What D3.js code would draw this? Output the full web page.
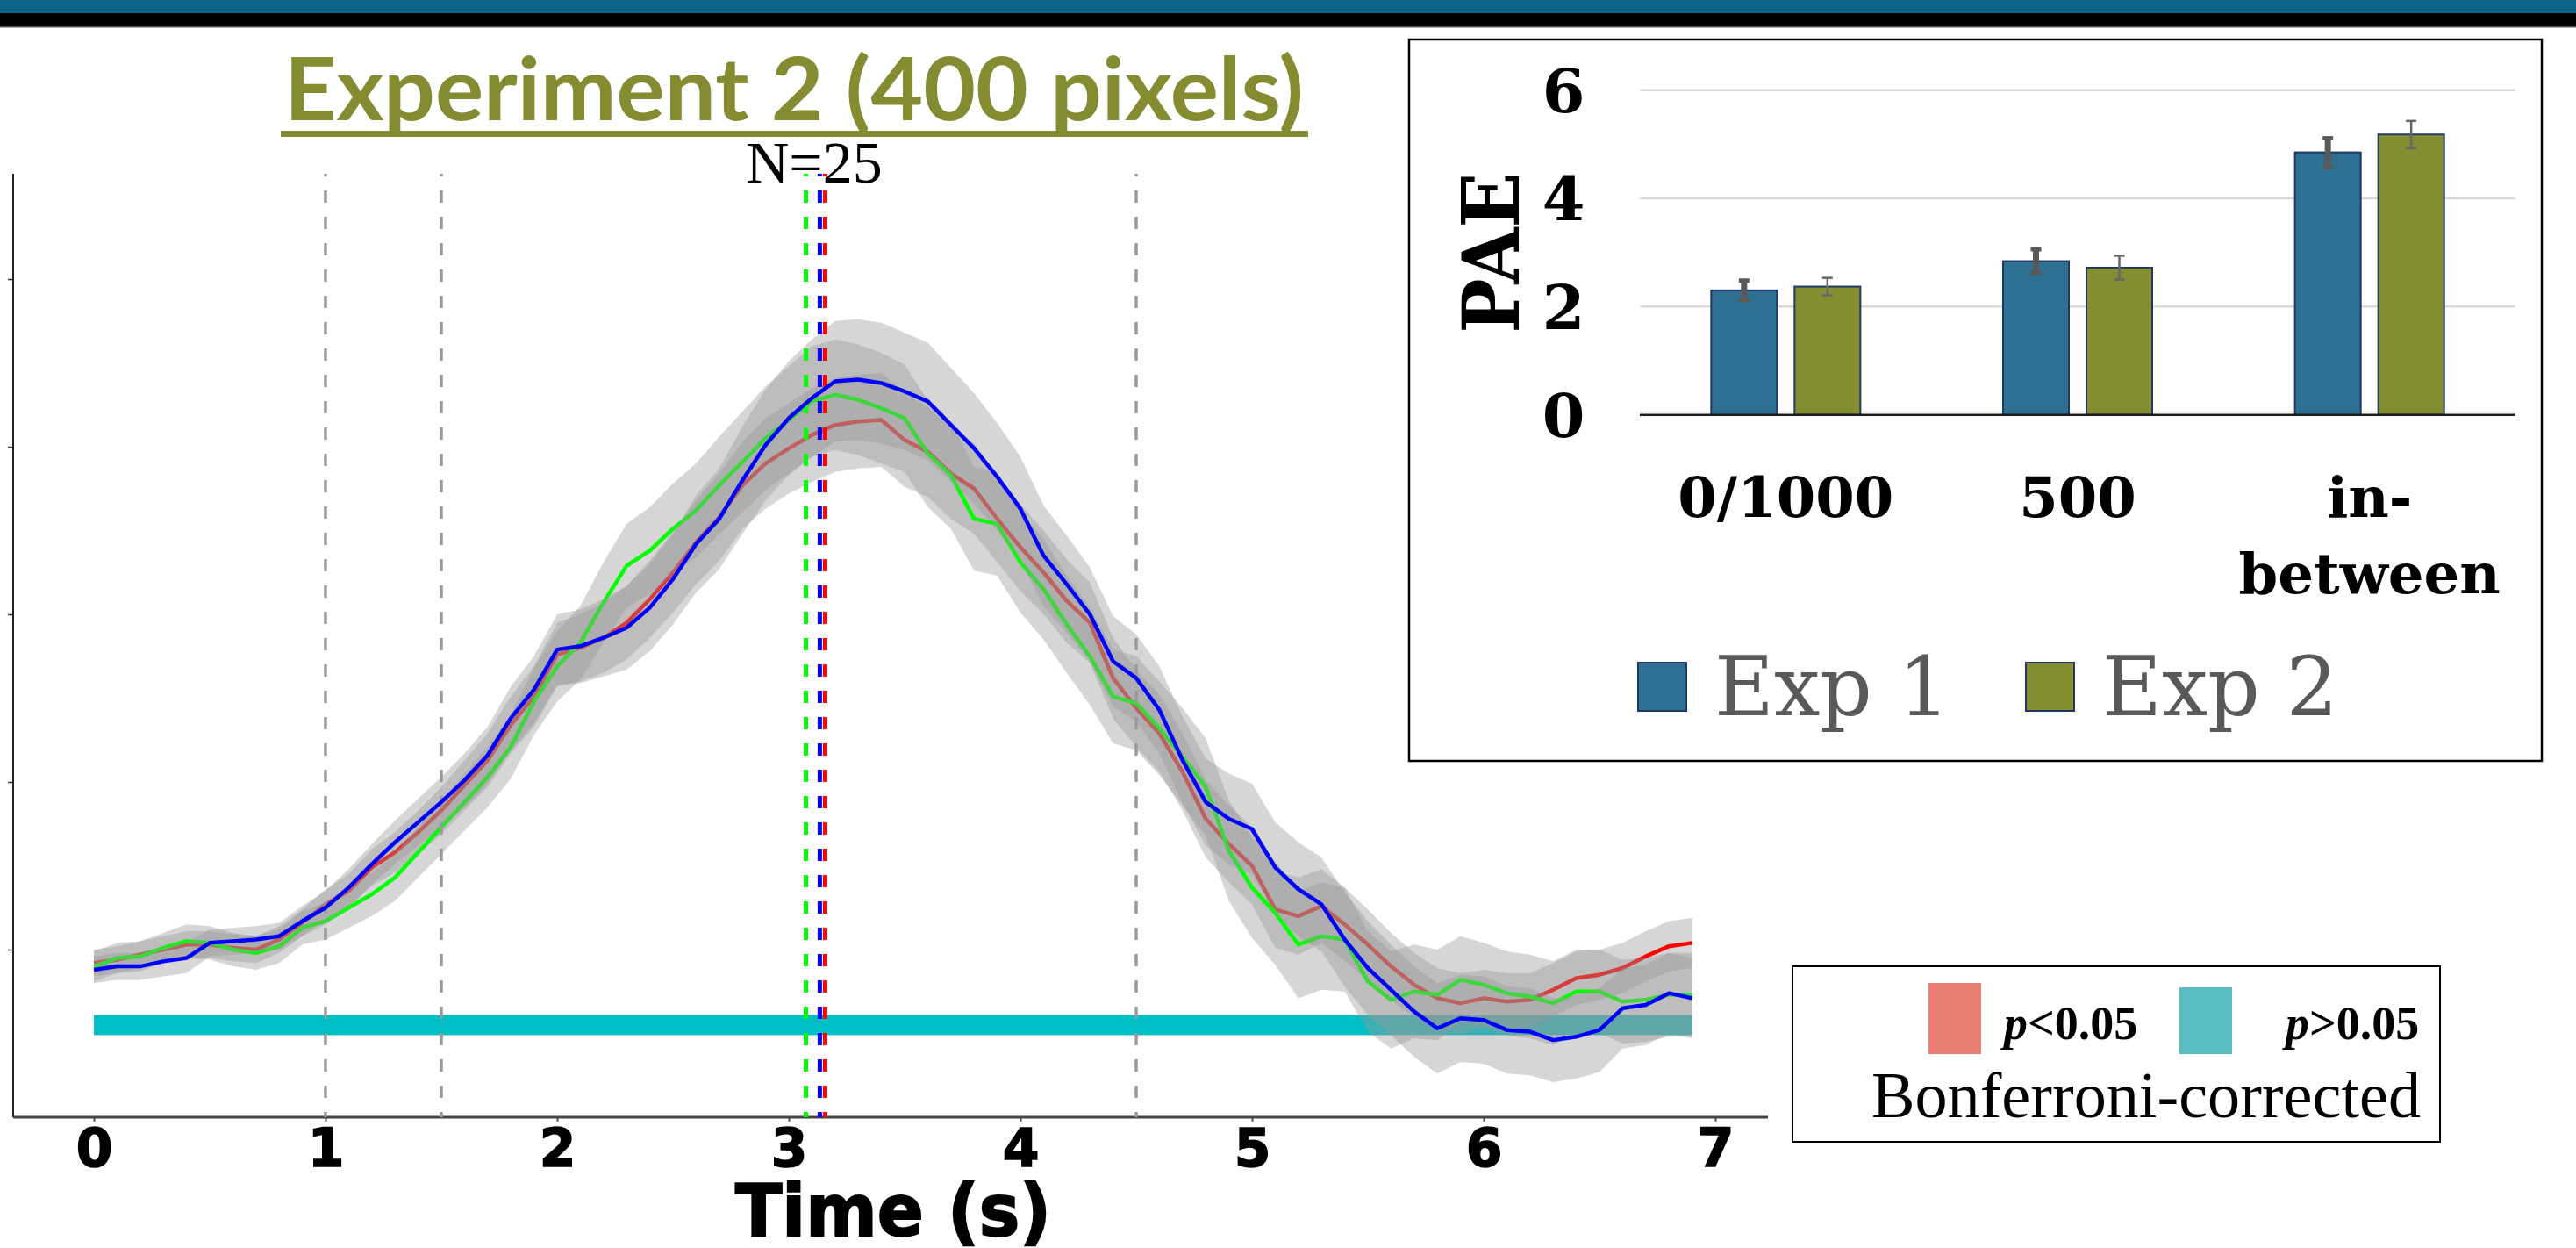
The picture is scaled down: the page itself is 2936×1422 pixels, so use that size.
<!DOCTYPE html>
<html lang="en">
<head>
<meta charset="UTF-8">
<title>Experiment 2 (400 pixels)</title>
<script src="https://d3js.org/d3.v7.min.js"></script>
<style>
  body { margin: 0; background: #fff; }
  svg { display: block; }
</style>
</head>
<body>
<div class="box"></div>
<script>
// ---- time course data (s), every 0.1 s ----
const time = [0, 0.1, 0.2, 0.3, 0.4, 0.5, 0.6, 0.7, 0.8, 0.9,
  1, 1.1, 1.2, 1.3, 1.4, 1.5, 1.6, 1.7, 1.8, 1.9,
  2, 2.1, 2.2, 2.3, 2.4, 2.5, 2.6, 2.7, 2.8, 2.9,
  3, 3.1, 3.2, 3.3, 3.4, 3.5, 3.6, 3.7, 3.8, 3.9,
  4, 4.1, 4.2, 4.3, 4.4, 4.5, 4.6, 4.7, 4.8, 4.9,
  5, 5.1, 5.2, 5.3, 5.4, 5.5, 5.6, 5.7, 5.8, 5.9,
  6, 6.1, 6.2, 6.3, 6.4, 6.5, 6.6, 6.7, 6.8, 6.9]

const redMean = [-0.08, -0.06, -0.03, 0.00, 0.03, 0.03, 0.01, 0.00, 0.06, 0.16,
  0.27, 0.35, 0.49, 0.58, 0.70, 0.83, 0.98, 1.13, 1.34, 1.51,
  1.76, 1.80, 1.86, 1.95, 2.09, 2.25, 2.43, 2.58, 2.77, 2.90,
  2.99, 3.07, 3.13, 3.15, 3.16, 3.04, 2.97, 2.84, 2.75, 2.57,
  2.40, 2.25, 2.08, 1.95, 1.62, 1.44, 1.29, 1.06, 0.78, 0.63,
  0.50, 0.24, 0.20, 0.26, 0.15, 0.03, -0.10, -0.21, -0.29, -0.32,
  -0.29, -0.31, -0.30, -0.24, -0.17, -0.15, -0.11, -0.04, 0.02, 0.04]
const redSE = [0.08, 0.08, 0.08, 0.08, 0.08, 0.08, 0.08, 0.08, 0.08, 0.08,
  0.09, 0.10, 0.11, 0.12, 0.13, 0.14, 0.15, 0.16, 0.17, 0.18,
  0.19, 0.20, 0.21, 0.22, 0.23, 0.24, 0.25, 0.26, 0.26, 0.27,
  0.27, 0.28, 0.28, 0.28, 0.28, 0.28, 0.27, 0.27, 0.27, 0.26,
  0.26, 0.25, 0.25, 0.24, 0.24, 0.23, 0.23, 0.23, 0.23, 0.23,
  0.23, 0.23, 0.23, 0.22, 0.22, 0.21, 0.20, 0.19, 0.18, 0.18,
  0.17, 0.17, 0.16, 0.16, 0.16, 0.15, 0.15, 0.15, 0.15, 0.15]

const greenMean = [-0.10, -0.05, -0.04, 0.01, 0.05, 0.04, 0.00, -0.02, 0.02, 0.13,
  0.17, 0.25, 0.33, 0.43, 0.58, 0.73, 0.88, 1.03, 1.21, 1.48,
  1.69, 1.83, 2.07, 2.29, 2.38, 2.51, 2.62, 2.77, 2.91, 3.05,
  3.16, 3.27, 3.31, 3.28, 3.23, 3.17, 2.96, 2.83, 2.57, 2.54,
  2.31, 2.15, 1.94, 1.75, 1.51, 1.47, 1.32, 1.15, 0.97, 0.59,
  0.37, 0.22, 0.03, 0.08, 0.06, -0.19, -0.30, -0.25, -0.27, -0.18,
  -0.21, -0.26, -0.28, -0.32, -0.25, -0.25, -0.31, -0.30, -0.27, -0.27]
const greenSE = [0.09, 0.09, 0.09, 0.09, 0.10, 0.10, 0.10, 0.10, 0.10, 0.10,
  0.11, 0.12, 0.13, 0.14, 0.15, 0.16, 0.17, 0.18, 0.19, 0.20,
  0.21, 0.22, 0.24, 0.25, 0.26, 0.27, 0.28, 0.29, 0.30, 0.31,
  0.32, 0.33, 0.33, 0.33, 0.33, 0.32, 0.32, 0.32, 0.31, 0.31,
  0.30, 0.30, 0.29, 0.29, 0.28, 0.28, 0.28, 0.29, 0.29, 0.30,
  0.30, 0.31, 0.32, 0.32, 0.31, 0.30, 0.29, 0.28, 0.27, 0.26,
  0.25, 0.25, 0.25, 0.25, 0.25, 0.25, 0.25, 0.25, 0.25, 0.25]

const blueMean = [-0.12, -0.10, -0.10, -0.07, -0.05, 0.04, 0.05, 0.06, 0.08, 0.17,
  0.25, 0.37, 0.51, 0.64, 0.76, 0.88, 1.01, 1.16, 1.38, 1.55,
  1.79, 1.81, 1.86, 1.92, 2.04, 2.21, 2.42, 2.57, 2.80, 3.01,
  3.17, 3.29, 3.39, 3.40, 3.38, 3.33, 3.27, 3.13, 2.99, 2.82,
  2.63, 2.35, 2.18, 2.00, 1.72, 1.62, 1.43, 1.13, 0.88, 0.78,
  0.72, 0.49, 0.36, 0.27, 0.06, -0.11, -0.24, -0.37, -0.47, -0.41,
  -0.42, -0.48, -0.49, -0.54, -0.52, -0.48, -0.35, -0.33, -0.26, -0.29]
const blueSE = [0.08, 0.08, 0.08, 0.09, 0.09, 0.08, 0.08, 0.08, 0.08, 0.09,
  0.10, 0.11, 0.12, 0.13, 0.14, 0.15, 0.16, 0.17, 0.19, 0.20,
  0.21, 0.22, 0.23, 0.25, 0.26, 0.27, 0.29, 0.30, 0.32, 0.33,
  0.34, 0.35, 0.36, 0.36, 0.36, 0.35, 0.35, 0.34, 0.33, 0.32,
  0.31, 0.30, 0.29, 0.28, 0.27, 0.26, 0.26, 0.26, 0.26, 0.27,
  0.27, 0.27, 0.28, 0.28, 0.28, 0.28, 0.27, 0.27, 0.27, 0.26,
  0.26, 0.26, 0.26, 0.25, 0.25, 0.25, 0.24, 0.24, 0.24, 0.24]

const markerTimes = [1, 1.5, 4.5]          // grey dashed lines
const peakTimes = [3.074, 3.134, 3.157]    // green, blue, red peaks
const nsRange = [0, 6.9]                   // p>0.05 stretch
const timeTicks = [0, 1, 2, 3, 4, 5, 6, 7]
const valueTicks = [0, 1, 2, 3, 4]

// ---- inset bar chart ----
const categories = ['0/1000', '500', 'in-between']
const groups = ['Exp 1', 'Exp 2']
const exp1 = [2.30, 2.84, 4.85]
const exp2 = [2.37, 2.72, 5.18]
const exp1Err = [0.18, 0.22, 0.26]
const exp2Err = [0.16, 0.22, 0.25]
const paeTicks = [0, 2, 4, 6]

// ---------------------------------------------------------------
const W = 2936, H = 1422
const svg = d3.select('.box').append('svg').attr('width', W).attr('height', H)

// slide header bars
svg.append('rect').attr('x', 0).attr('y', 0).attr('width', W).attr('height', 15).attr('fill', '#0b6489')
svg.append('rect').attr('x', 0).attr('y', 15).attr('width', W).attr('height', 15).attr('fill', '#000')
svg.append('rect').attr('x', 0).attr('y', 30).attr('width', W).attr('height', 1.5).attr('fill', '#555')

// title
svg.append('text')
  .attr('x', 324).attr('y', 137)
  .attr('font-family', 'Lato, "Open Sans", sans-serif')
  .attr('font-weight', 'bold')
  .attr('font-size', 100)
  .attr('fill', '#858b31')
  .attr('textLength', 1162).attr('lengthAdjust', 'spacingAndGlyphs')
  .text('Experiment 2 (400 pixels)')
svg.append('rect').attr('x', 320).attr('y', 149).attr('width', 1171).attr('height', 7).attr('fill', '#858b31')

// ---- main time-course panel ----
const x = d3.scaleLinear().domain([0, 7]).range([107, 1955])
const y = d3.scaleLinear().domain([0, 4]).range([1082, 318])
const frame = { left: 15, right: 2015, top: 198, bottom: 1273 }

const xAxis = svg.append('g')
  .attr('transform', `translate(0,${frame.bottom})`)
  .call(d3.axisBottom(x).tickValues(timeTicks).tickSize(5).tickPadding(8).tickFormat(d3.format('d')))
xAxis.select('.domain').remove()
xAxis.selectAll('line').attr('stroke', '#555').attr('stroke-width', 2)
xAxis.selectAll('text')
  .attr('font-family', '"DejaVu Sans", sans-serif')
  .attr('font-weight', 'bold')
  .attr('font-size', 60)
  .attr('fill', '#000')
  .attr('stroke', '#000').attr('stroke-width', 1.5)

const yAxis = svg.append('g')
  .attr('transform', `translate(${frame.left},0)`)
  .call(d3.axisLeft(y).tickValues(valueTicks).tickSize(6).tickFormat(''))
yAxis.select('.domain').remove()
yAxis.selectAll('line').attr('stroke', '#333').attr('stroke-width', 1.5)

svg.append('line')
  .attr('x1', frame.left).attr('x2', frame.left).attr('y1', frame.top).attr('y2', frame.bottom)
  .attr('stroke', '#222').attr('stroke-width', 2)
svg.append('line')
  .attr('x1', frame.left).attr('x2', frame.right).attr('y1', frame.bottom).attr('y2', frame.bottom)
  .attr('stroke', '#444').attr('stroke-width', 3)

svg.append('text')
  .attr('x', 1018).attr('y', 1408)
  .attr('text-anchor', 'middle')
  .attr('font-family', '"DejaVu Sans", sans-serif')
  .attr('font-weight', 'bold')
  .attr('font-size', 82)
  .attr('stroke', '#000').attr('stroke-width', 2)
  .attr('textLength', 360).attr('lengthAdjust', 'spacingAndGlyphs')
  .text('Time (s)')

svg.append('text')
  .attr('x', 928).attr('y', 208)
  .attr('text-anchor', 'middle')
  .attr('font-family', '"Liberation Serif", "Times New Roman", serif')
  .attr('font-size', 68)
  .text('N=25')

// n.s. stretch (drawn under the SE bands)
svg.append('rect')
  .attr('x', x(nsRange[0])).attr('width', x(nsRange[1]) - x(nsRange[0]))
  .attr('y', y(-0.39)).attr('height', y(-0.51) - y(-0.39))
  .attr('fill', '#00bfc4')

const series = [
  { mean: redMean, se: redSE, color: '#ff0000' },
  { mean: greenMean, se: greenSE, color: '#00ff00' },
  { mean: blueMean, se: blueSE, color: '#0000ff' }
]
const band = d3.area()
  .x((d, i) => x(time[i]))
  .y0(d => y(d[0] - d[1]))
  .y1(d => y(d[0] + d[1]))
const line = d3.line()
  .x((d, i) => x(time[i]))
  .y(d => y(d))

function drawBand (s) {
  svg.append('path')
    .datum(s.mean.map((m, i) => [m, s.se[i]]))
    .attr('d', band)
    .attr('fill', '#999')
    .attr('fill-opacity', 0.4)
}
function drawLine (s) {
  svg.append('path')
    .datum(s.mean)
    .attr('d', line)
    .attr('fill', 'none')
    .attr('stroke', s.color)
    .attr('stroke-width', 4.5)
    .attr('stroke-linejoin', 'round')
}
drawBand(series[0])
drawLine(series[0])
drawBand(series[1])
drawLine(series[1])
drawBand(series[2])

// dashed marker lines
const peakColors = ['#00ff00', '#0000ff', '#ff0000']
svg.selectAll('.marker').data(markerTimes).enter().append('line')
  .attr('class', 'marker')
  .attr('x1', d => x(d)).attr('x2', d => x(d))
  .attr('y1', frame.top).attr('y2', frame.bottom)
  .attr('stroke', '#9a9a9a').attr('stroke-width', 3.5)
  .attr('stroke-dasharray', '14,16').attr('stroke-dashoffset', 11)
svg.selectAll('.peak').data(peakTimes).enter().append('line')
  .attr('class', 'peak')
  .attr('x1', d => x(d)).attr('x2', d => x(d))
  .attr('y1', frame.top).attr('y2', frame.bottom)
  .attr('stroke', (d, i) => peakColors[i]).attr('stroke-width', 5)
  .attr('stroke-dasharray', '14,16').attr('stroke-dashoffset', 11)

drawLine(series[2])

// significance legend
const leg = svg.append('g')
leg.append('rect').attr('x', 2043).attr('y', 1101).attr('width', 738).attr('height', 200)
  .attr('fill', '#fff').attr('stroke', '#000').attr('stroke-width', 2)
leg.append('rect').attr('x', 2198).attr('y', 1120).attr('width', 60).attr('height', 81).attr('fill', '#e87f72')
leg.append('rect').attr('x', 2484).attr('y', 1125).attr('width', 60).attr('height', 76).attr('fill', '#5bbbc2')
const pText = [['<0.05', 2284], ['>0.05', 2605]]
pText.forEach(p => {
  const t = leg.append('text')
    .attr('x', p[1]).attr('y', 1184)
    .attr('font-family', '"Liberation Serif", "Times New Roman", serif')
    .attr('font-weight', 'bold')
    .attr('font-size', 54)
  t.append('tspan').attr('font-style', 'italic').text('p')
  t.append('tspan').text(p[0])
})
leg.append('text')
  .attr('x', 2133).attr('y', 1273)
  .attr('font-family', '"Liberation Serif", "Times New Roman", serif')
  .attr('font-size', 74)
  .attr('textLength', 626).attr('lengthAdjust', 'spacingAndGlyphs')
  .text('Bonferroni-corrected')

// ---- inset: PAE bar chart ----
const inset = svg.append('g')
inset.append('rect').attr('x', 1606).attr('y', 45).attr('width', 1291).attr('height', 822)
  .attr('fill', '#fff').attr('stroke', '#000').attr('stroke-width', 2.5)

const ix0 = d3.scaleBand().domain(categories).range([1869, 2867])
const ix1 = d3.scaleBand().domain(groups).range([0, ix0.bandwidth()]).paddingInner(0.2105).paddingOuter(0.856)
const iy = d3.scaleLinear().domain([0, 6]).range([472.7, 102.7])
const barColor = d3.scaleOrdinal().domain(groups).range(['#2e6f92', '#848e31'])

inset.selectAll('.grid').data(paeTicks.filter(d => d > 0)).enter().append('line')
  .attr('class', 'grid')
  .attr('x1', 1869).attr('x2', 2867)
  .attr('y1', d => iy(d)).attr('y2', d => iy(d))
  .attr('stroke', '#d9d9d9').attr('stroke-width', 2.5)
inset.selectAll('.ytick').data(paeTicks).enter().append('text')
  .attr('class', 'ytick')
  .attr('x', 1782).attr('y', d => iy(d)).attr('dy', '0.36em')
  .attr('text-anchor', 'middle')
  .attr('font-family', '"DejaVu Serif", serif')
  .attr('font-weight', 'bold')
  .attr('font-size', 70)
  .text(d => d)
inset.append('text')
  .attr('transform', 'translate(1731,288) rotate(-90)')
  .attr('text-anchor', 'middle')
  .attr('font-family', '"DejaVu Serif", serif')
  .attr('font-weight', 'bold')
  .attr('font-size', 90)
  .attr('textLength', 183).attr('lengthAdjust', 'spacingAndGlyphs')
  .text('PAE')

const barData = categories.map((c, i) => [
  { cat: c, grp: 'Exp 1', v: exp1[i], e: exp1Err[i] },
  { cat: c, grp: 'Exp 2', v: exp2[i], e: exp2Err[i] }
])
const cat = inset.selectAll('.cat').data(barData).enter().append('g')
  .attr('class', 'cat')
  .attr('transform', (d, i) => `translate(${ix0(categories[i])},0)`)
cat.selectAll('rect').data(d => d).enter().append('rect')
  .attr('x', d => ix1(d.grp)).attr('width', ix1.bandwidth())
  .attr('y', d => iy(d.v)).attr('height', d => iy(0) - iy(d.v))
  .attr('fill', d => barColor(d.grp))
  .attr('stroke', '#1f3864').attr('stroke-width', 2)

// error bars: Exp 1 heavy, Exp 2 thin with caps
cat.selectAll('.err').data(d => d).enter().append('g')
  .attr('class', 'err')
  .each(function (d) {
    const g = d3.select(this)
    const cx = ix1(d.grp) + ix1.bandwidth() / 2
    const heavy = d.grp === 'Exp 1'
    g.append('line')
      .attr('x1', cx).attr('x2', cx)
      .attr('y1', iy(d.v + d.e)).attr('y2', iy(d.v - d.e))
      .attr('stroke', heavy ? '#595959' : '#666').attr('stroke-width', heavy ? 7 : 2.5)
    ;[d.v + d.e, d.v - d.e].forEach(v => {
      g.append('line')
        .attr('x1', cx - 6).attr('x2', cx + 6)
        .attr('y1', iy(v)).attr('y2', iy(v))
        .attr('stroke', heavy ? '#595959' : '#666').attr('stroke-width', heavy ? 5 : 2.5)
    })
  })

inset.append('line')
  .attr('x1', 1869).attr('x2', 2867).attr('y1', iy(0)).attr('y2', iy(0))
  .attr('stroke', '#1a1a1a').attr('stroke-width', 2.5)

inset.selectAll('.xlab').data(categories).enter().append('text')
  .attr('class', 'xlab')
  .attr('text-anchor', 'middle')
  .attr('font-family', '"DejaVu Serif", serif')
  .attr('font-weight', 'bold')
  .attr('font-size', 64)
  .each(function (d) {
    const parts = d.includes('-') ? [d.slice(0, d.indexOf('-') + 1), d.slice(d.indexOf('-') + 1)] : [d]
    const cx = ix0(d) + ix0.bandwidth() / 2
    parts.forEach((p, k) => {
      d3.select(this).append('tspan').attr('x', cx).attr('y', 589 + k * 87).text(p)
    })
  })

const ileg = inset.selectAll('.ileg').data(groups).enter().append('g')
  .attr('class', 'ileg')
  .attr('transform', (d, i) => `translate(${[1867, 2309][i]},755)`)
ileg.append('rect').attr('width', 55).attr('height', 55)
  .attr('fill', d => barColor(d)).attr('stroke', '#1f3864').attr('stroke-width', 2)
ileg.append('text')
  .attr('x', 87).attr('y', 60)
  .attr('font-family', '"DejaVu Serif", serif')
  .attr('font-size', 93)
  .attr('fill', '#595959')
  .text(d => d)
</script>
</body>
</html>
